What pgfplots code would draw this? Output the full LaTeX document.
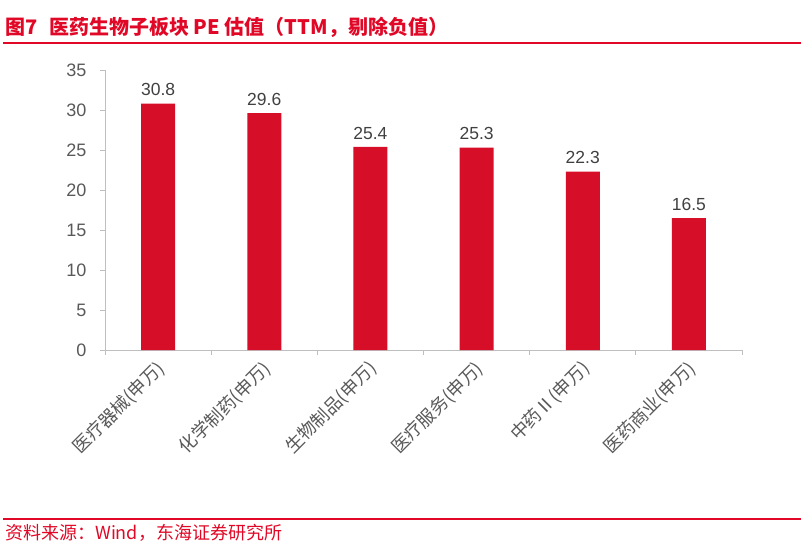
\documentclass[border=0pt]{standalone}
\usepackage{pgfplots}
\pgfplotsset{compat=1.18}
\usepackage{fontspec}
\setmainfont{Liberation Sans}
\newfontfamily\cjk{Noto Sans CJK SC}
\definecolor{barred}{RGB}{215,14,40}
\definecolor{titlered}{RGB}{224,8,38}
\definecolor{axgray}{RGB}{191,191,191}
\definecolor{txtgray}{RGB}{89,89,89}
\definecolor{numgray}{RGB}{64,64,64}
\begin{document}
\begin{tikzpicture}[x=1pt,y=1pt]
\useasboundingbox (0,0) rectangle (804,547);
\node[anchor=base west, text=titlered, font=\cjk\bfseries\fontsize{20}{20}\selectfont, inner sep=0] at (5,512) {图7\hspace{0.6em}医药生物子板块 PE 估值（TTM，剔除负值）};
\draw[titlered, line width=1.5pt] (3,504) -- (801,504);
\draw[titlered, line width=1.2pt] (3,28) -- (801,28);
\node[anchor=base west, text=titlered, font=\cjk\fontsize{18}{18}\selectfont, inner sep=0] at (5,8) {资料来源：Wind，东海证券研究所};
\begin{axis}[
  at={(105pt,197pt)}, anchor=south west,
  scale only axis, width=637pt, height=280pt,
  xmin=-0.5, xmax=5.5, ymin=0, ymax=35,
  axis lines=left,
  axis line style={-, draw=axgray, line width=1pt},
  tick align=outside, major tick length=5pt,
  every tick/.style={draw=axgray, line width=1pt},
  ytick={0,5,...,35},
  yticklabel style={font=\fontsize{18}{18}\selectfont, text=txtgray, xshift=-10pt},
  /pgf/number format/assume math mode=true,
  xtick={-0.5,0.5,1.5,2.5,3.5,4.5,5.5},
  xticklabels={},
  extra x ticks={0,1,2,3,4,5},
  extra x tick labels={医疗器械(申万),化学制药(申万),生物制品(申万),医疗服务(申万),中药Ⅱ(申万),医药商业(申万)},
  extra x tick style={major tick length=0pt,
    xticklabel style={font=\cjk\fontsize{18}{18}\selectfont, text=txtgray, rotate=45, anchor=east, xshift=-5pt, yshift=-13.5pt}},
  ybar, bar width=34pt,
  nodes near coords,
  every node near coord/.append style={font=\fontsize{17.5}{17.5}\selectfont, text=numgray, yshift=4pt},
  clip=false,
]
\addplot[fill=barred, draw=none] coordinates {(0,30.8) (1,29.6) (2,25.4) (3,25.3) (4,22.3) (5,16.5)};
\end{axis}
\end{tikzpicture}
\end{document}
